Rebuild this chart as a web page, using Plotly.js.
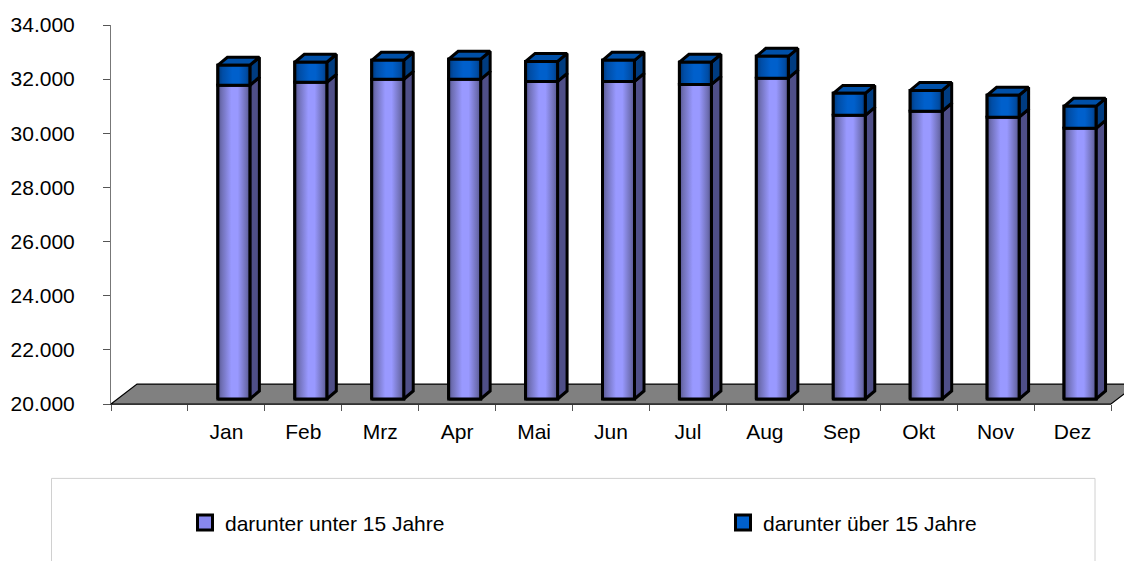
<!DOCTYPE html>
<html><head><meta charset="utf-8">
<script src="https://cdn.plot.ly/plotly-3.0.1.min.js"></script>
<style>html,body{margin:0;padding:0;background:#fff;overflow:hidden}</style>
</head><body><div id="chart" style="width:1124px;height:561px"></div>
<script>
const categories = [' ','Jan','Feb','Mrz','Apr','Mai','Jun','Jul','Aug','Sep','Okt','Nov','Dez'];
const months = categories.slice(1);
const under15 = [31590,31700,31810,31810,31730,31730,31620,31850,30480,30630,30410,30000];
const total   = [32330,32440,32510,32550,32470,32510,32440,32660,31290,31400,31220,30810];
const over15  = total.map((t,i)=>t-under15[i]);
const yFloor = 20000;
const nameUnder = 'darunter unter 15 Jahre', nameOver = 'darunter über 15 Jahre';

const W=1124,H=561,L=111,R=1111,T=24.5,B=404;
const pxX=(R-L)/13, pxY=(B-T)/14000;
const shiftX=7.5/pxX, shiftY=5/pxY;
const barW=32/pxX, depthX=9.5/pxX, depthY=8/pxY;
const px=x=>(x-L)/(R-L), py=y=>(B-y)/(B-T);

const edge=3;
const gradUnder=[[0,'#55558f'],[0.12,'#6f6fb4'],[0.42,'#9999ff'],[0.62,'#9999ff'],[0.88,'#6f6fb4'],[1,'#55558f']];
const gradOver =[[0,'#00397a'],[0.15,'#004da6'],[0.45,'#0060cc'],[0.65,'#0060cc'],[0.88,'#004da6'],[1,'#00397a']];
const poly=(xs,ys,extra)=>Object.assign({type:'scatter',mode:'lines',x:xs,y:ys,xaxis:'x2',yaxis:'y2',fill:'toself',
  line:{color:'#000',width:edge},hoverinfo:'skip',showlegend:false},extra);

const traces=[];
traces.push({type:'scatter',mode:'none',x:categories,y:categories.map(()=>yFloor),showlegend:false,hoverinfo:'skip'});
const xpos=months.map((m,i)=>i+1);
traces.push({type:'bar',name:nameUnder,showlegend:false,x:xpos,y:under15.map(v=>v-yFloor),base:yFloor,width:barW,xaxis:'x2',yaxis:'y2',
  marker:{color:'#9999ff',line:{color:'#000',width:edge}}});
traces.push({type:'bar',name:nameOver,showlegend:false,x:xpos,y:over15,base:under15,width:barW,xaxis:'x2',yaxis:'y2',
  marker:{color:'#0060cc',line:{color:'#000',width:edge}}});
xpos.forEach((c,i)=>{
  const l=c-barW/2,r=c+barW/2,lo=yFloor,m=under15[i],t=total[i];
  traces.push(poly([r,r+depthX,r+depthX,r,r],[lo,lo+depthY,m+depthY,m,lo],{fillcolor:'#4f4f88'}));
  traces.push(poly([r,r+depthX,r+depthX,r,r],[m,m+depthY,t+depthY,t,m],{fillcolor:'#003c80'}));
  traces.push(poly([l,l+depthX,r+depthX,r,l],[t,t+depthY,t+depthY,t,t],{fillcolor:'#0050a8'}));
  traces.push(poly([l,r,r,l,l],[lo,lo,m,m,lo],{fillgradient:{type:'horizontal',start:l,stop:r,colorscale:gradUnder}}));
  traces.push(poly([l,r,r,l,l],[m,m,t,t,m],{fillgradient:{type:'horizontal',start:l,stop:r,colorscale:gradOver}}));
});
// legend keys: empty marker traces sized like the reference's swatches
const key=(name,legend,color)=>({type:'scatter',mode:'markers',name:name,legend:legend,x:[null],y:[null],xaxis:'x2',yaxis:'y2',
  marker:{symbol:'square',size:15,color:color,line:{color:'#000',width:3}}});
traces.push(key(nameUnder,'legend','#8888ee'));
traces.push(key(nameOver,'legend2','#0060cc'));

const font={family:'"Liberation Sans",Arial,sans-serif',size:21,color:'#000'};
const legendBase={xanchor:'left',yanchor:'middle',bgcolor:'rgba(0,0,0,0)',borderwidth:0,font:font,itemsizing:'trace',itemclick:false,itemdoubleclick:false};
const layout={
  width:W,height:H,margin:{l:L,r:W-R,t:T,b:H-B,autoexpand:false},paper_bgcolor:'#fff',plot_bgcolor:'rgba(0,0,0,0)',
  separators:',.',barmode:'overlay',font:font,showlegend:true,
  xaxis:{type:'category',categoryorder:'array',categoryarray:categories,range:[-0.5,12.5],tickson:'boundaries',
    ticks:'outside',ticklen:6,tickcolor:'#555',showline:true,linecolor:'#333',linewidth:1,showgrid:false,zeroline:false,
    ticklabelstandoff:9,tickfont:font,tickangle:0,fixedrange:true},
  yaxis:{range:[yFloor,34000],tick0:20000,dtick:2000,tickformat:',d',ticks:'outside',ticklen:7,tickcolor:'#555',
    showline:true,linecolor:'#777',linewidth:1,showgrid:false,zeroline:false,tickfont:font,ticklabelstandoff:24,fixedrange:true},
  xaxis2:{overlaying:'x',anchor:'y2',type:'linear',range:[-shiftX-0.5,13-shiftX-0.5],visible:false,fixedrange:true},
  yaxis2:{overlaying:'y',anchor:'x2',range:[yFloor-shiftY,34000-shiftY],visible:false,fixedrange:true},
  shapes:[
    {type:'path',xref:'paper',yref:'paper',layer:'below',
     path:`M${px(L)},${py(B)} L${px(L+26)},${py(384)} L${px(R+26)},${py(384)} L${px(R)},${py(B)} Z`,
     fillcolor:'#808080',line:{color:'#000',width:1.2}},
    {type:'rect',xref:'paper',yref:'paper',layer:'below',x0:px(51.5),x1:px(1095),y0:py(478.5),y1:py(600),
     fillcolor:'rgba(0,0,0,0)',line:{color:'#d0d0d0',width:1}}
  ],
  legend:Object.assign({x:px(185),y:py(523)},legendBase),
  legend2:Object.assign({x:px(723),y:py(523)},legendBase)
};
Plotly.newPlot('chart',traces,layout,{displayModeBar:false,staticPlot:true});
</script></body></html>
